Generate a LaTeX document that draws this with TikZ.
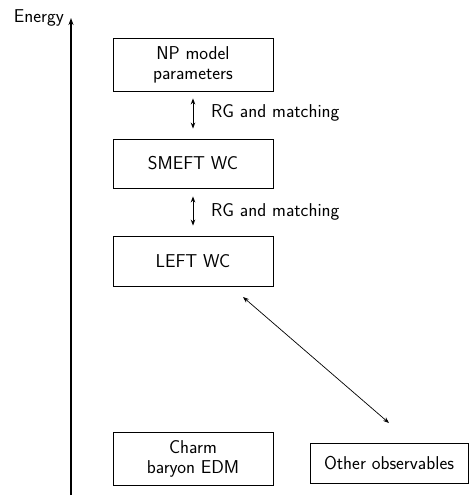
\documentclass[tikz,border=0pt]{standalone}
\usetikzlibrary{arrows.meta,calc}
\begin{document}
\begin{tikzpicture}[x=1pt,y=-1pt,
  font=\sffamily\fontsize{18.6}{22}\selectfont,
  box/.style={draw, line width=0.85pt, minimum width=160pt, inner sep=0pt, align=center},
  dbl/.style={{Stealth[length=6pt,width=4.5pt]}-{Stealth[length=6pt,width=4.5pt]}, line width=0.9pt},
  lbl/.style={anchor=west, inner sep=0pt}]
\useasboundingbox (0,0) rectangle (469,499);
% axis
\coordinate (ax0) at (71,495);
\coordinate (ax1) at (71,18);
\draw[line width=1.2pt, -{Stealth[length=7pt,width=5pt]}] (ax0) -- (ax1);
\node[anchor=base east, inner sep=0pt] (energy) at (64,22) {Energy};
% boxes
\node[box, minimum height=53pt] (np) at (193,64.5) {NP model\\[-2pt]parameters};
\node[box, minimum height=49pt] (smeft) at (193,163.5) {SMEFT WC};
\node[box, minimum height=50pt] (left) at (193,261) {LEFT WC};
\node[box, minimum height=53pt] (charm) at (193,458.5) {Charm\\[-2pt]baryon EDM};
\node[box, minimum width=158pt, minimum height=40pt] (other) at (389,463) {Other observables};
% vertical arrows
\draw[dbl] ($(np.south)+(0,7)$) -- ($(smeft.north)+(0,-10)$);
\node[lbl] (rg1) at (211,113) {RG and matching};
\draw[dbl] ($(smeft.south)+(0,8)$) -- ($(left.north)+(0,-10)$);
\node[lbl] (rg2) at (211,212) {RG and matching};
% diagonal
\coordinate (d0) at (243,297);
\coordinate (d1) at (389,423);
\draw[line width=0.7pt, {Stealth[length=6pt,width=4.5pt]}-{Stealth[length=6pt,width=4.5pt]}] (d0) -- (d1);
\end{tikzpicture}
\end{document}
